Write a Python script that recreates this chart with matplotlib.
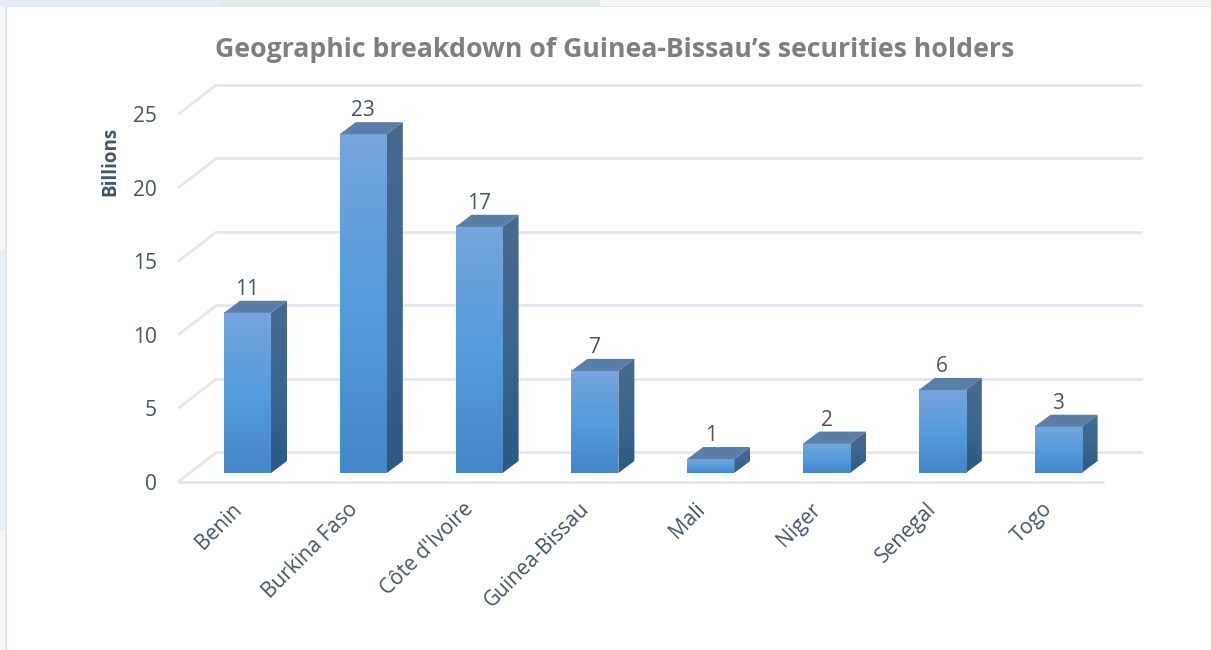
import matplotlib

matplotlib.use("Agg")

import matplotlib.pyplot as plt  # noqa: E402
import numpy as np  # noqa: E402
from matplotlib.colors import LinearSegmentedColormap  # noqa: E402
from matplotlib.patches import Polygon, Rectangle  # noqa: E402

countries = ["Benin", "Burkina Faso", "Côte d'Ivoire", "Guinea-Bissau", "Mali", "Niger", "Senegal", "Togo"]
holdings = [10.9, 23.05, 16.75, 6.95, 0.95, 2.0, 5.65, 3.15]
bar_labels = ["11", "23", "17", "7", "1", "2", "6", "3"]
y_ticks = [0, 5, 10, 15, 20, 25]

TEXT = "#44546a"
GRID = "#e4e7ee"

plt.rcParams["font.family"] = ["Open Sans", "DejaVu Sans"]

W, H = 1211, 650
fig = plt.figure(figsize=(W / 100, H / 100), dpi=100)
fig.patch.set_facecolor("#f3f5f8")
# page behind the chart card, then the card with its thin border
fig.add_artist(Rectangle((0, 1 - 6 / H), 220 / W, 6 / H, transform=fig.transFigure, fc="#e7ebf5", ec="none", zorder=-3))
fig.add_artist(Rectangle((220 / W, 1 - 6 / H), 380 / W, 6 / H, transform=fig.transFigure, fc="#e2e9ea", ec="none", zorder=-3))
fig.add_artist(Rectangle((0, 120 / H), 5 / W, 280 / H, transform=fig.transFigure, fc="#e8eef1", ec="none", zorder=-3))
fig.add_artist(Rectangle((5 / W, 0), 1 - 5 / W, 1 - 6 / H, transform=fig.transFigure, fc="#e0e4ef", ec="none", zorder=-2))
fig.add_artist(Rectangle((7 / W, 0), 1 - 7 / W, 1 - 7 / H, transform=fig.transFigure, fc="white", ec="none", zorder=-1))

# single axes over the whole figure, x = category number, y = billions
px_x = 115.8  # pixels per category
px_y = 14.7  # pixels per billion
x_zero, y_zero = 247.5, 473
ax = fig.add_axes([0, 0, 1, 1])
ax.axis("off")

bar_w = 47 / px_x
depth_x = 16 / px_x
depth_y = 12 / px_y
# chart floor runs from the front edge (below the bars) to the back wall
front_dy = -9 / px_y
back_off = 21 / px_y
front_left = (178 - x_zero) / px_x
front_right = (1104 - x_zero) / px_x
back_left = (217 - x_zero) / px_x
back_right = (1142 - x_zero) / px_x

for v in y_ticks:
    ax.plot([front_left, back_left], [v + front_dy, v + back_off], color=GRID, lw=2, zorder=1, solid_capstyle="butt")
    ax.plot([back_left, back_right], [v + back_off, v + back_off], color=GRID, lw=2, zorder=1, solid_capstyle="butt")
    ax.text(front_left - 21 / px_x, v + front_dy - 0.15, str(v), ha="right", va="center", fontsize=15, color=TEXT)
ax.plot([front_left, front_right], [front_dy, front_dy], color=GRID, lw=2, zorder=1, solid_capstyle="butt")

gradient = np.linspace(0, 1, 64).reshape(-1, 1)
cmap = LinearSegmentedColormap.from_list("bar", ["#75a5db", "#559bdd", "#4587c8"])
cmap_side = LinearSegmentedColormap.from_list("side", ["#486a90", "#3c678f", "#2b5a85"])

for i, (val, lab) in enumerate(zip(holdings, bar_labels)):
    x0 = i - bar_w / 2
    x1 = i + bar_w / 2
    ax.imshow(gradient, extent=(x0, x1, 0, val), cmap=cmap, aspect="auto", zorder=3)
    side = ax.imshow(gradient, extent=(x1, x1 + depth_x, 0, val + depth_y), cmap=cmap_side, aspect="auto", zorder=2)
    side_poly = Polygon(
        [(x1, 0), (x1 + depth_x, depth_y), (x1 + depth_x, val + depth_y), (x1, val)],
        fc="none", ec="none",
    )
    ax.add_patch(side_poly)
    side.set_clip_path(side_poly)
    ax.add_patch(Polygon(
        [(x0, val), (x1, val), (x1 + depth_x, val + depth_y), (x0 + depth_x, val + depth_y)],
        fc="#597ea8", ec="none", zorder=3,
    ))
    ax.text(i, val + depth_y + 0.05, lab, ha="center", va="bottom", fontsize=15, color=TEXT, zorder=4)
    ax.text(i - 16 / px_x, -1.75, countries[i], ha="right", va="top", rotation=45, rotation_mode="anchor",
            fontsize=15, color=TEXT)

# imshow resets the limits, so set them last
ax.set_xlim(-x_zero / px_x, (W - x_zero) / px_x)
ax.set_ylim((y_zero - H) / px_y, y_zero / px_y)

ax.text((614.5 - x_zero) / px_x, (y_zero - 50) / px_y, "Geographic breakdown of Guinea-Bissau’s securities holders",
        ha="center", va="center", fontsize=19.15, fontweight="bold", color="#7f7f7f")
ax.text((110 - x_zero) / px_x, (y_zero - 161) / px_y, "Billions", rotation=90, ha="center", va="center",
        fontsize=13.5, fontweight="bold", color=TEXT)

fig.savefig("out.png", dpi=100)
